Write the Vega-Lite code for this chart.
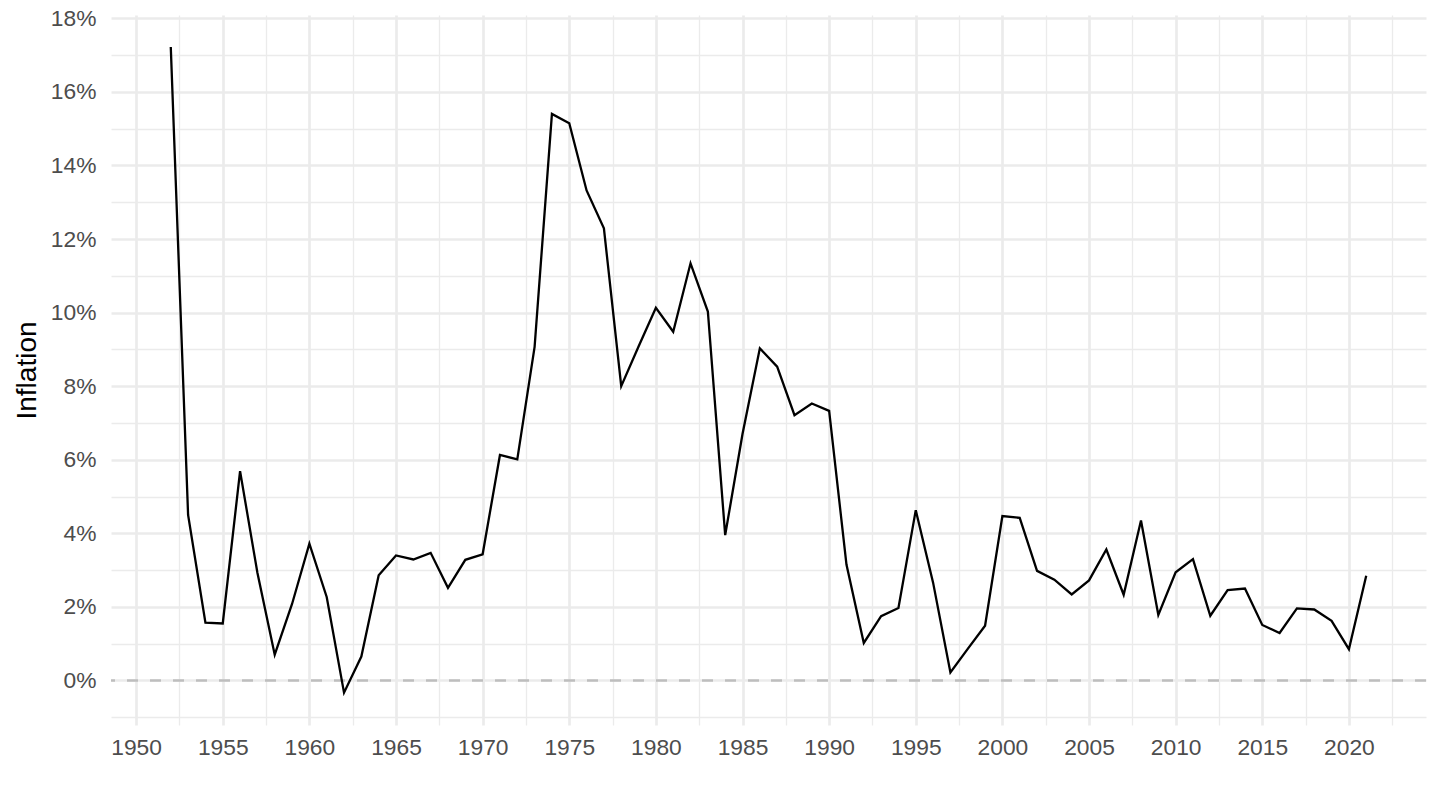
{
  "$schema": "https://vega.github.io/schema/vega-lite/v6.json",
  "autosize": {"type": "none"},
  "width": 1315,
  "height": 710,
  "padding": {"left": 111, "top": 15, "right": 14, "bottom": 85},
  "background": "white",
  "config": {
    "view": {"stroke": null},
    "font": "Liberation Sans"
  },
  "resolve": {"axis": {"y": "independent"}},
  "layer": [
    {
      "data": {"values": [{"level": 0}]},
      "mark": {"type": "rule", "color": "#BEBEBE", "strokeWidth": 2.7, "strokeDash": [11, 12]},
      "encoding": {
        "y": {
          "field": "level",
          "type": "quantitative",
          "scale": {"domain": [-1.21, 18.09], "nice": false, "zero": false},
          "axis": {
            "orient": "left",
            "title": null,
            "values": [-1, 1, 3, 5, 7, 9, 11, 13, 15, 17],
            "labels": false,
            "domain": false,
            "ticks": false,
            "grid": true,
            "gridColor": "#EBEBEB",
            "gridWidth": 1.35
          }
        }
      }
    },
    {
      "data": {
        "values": [
          {"year": 1952, "inflation": 17.22},
          {"year": 1953, "inflation": 4.50},
          {"year": 1954, "inflation": 1.57},
          {"year": 1955, "inflation": 1.55},
          {"year": 1956, "inflation": 5.69},
          {"year": 1957, "inflation": 2.93},
          {"year": 1958, "inflation": 0.70},
          {"year": 1959, "inflation": 2.08},
          {"year": 1960, "inflation": 3.72},
          {"year": 1961, "inflation": 2.27},
          {"year": 1962, "inflation": -0.33},
          {"year": 1963, "inflation": 0.65},
          {"year": 1964, "inflation": 2.86},
          {"year": 1965, "inflation": 3.40},
          {"year": 1966, "inflation": 3.29},
          {"year": 1967, "inflation": 3.47},
          {"year": 1968, "inflation": 2.52},
          {"year": 1969, "inflation": 3.28},
          {"year": 1970, "inflation": 3.43},
          {"year": 1971, "inflation": 6.13},
          {"year": 1972, "inflation": 6.01},
          {"year": 1973, "inflation": 9.07},
          {"year": 1974, "inflation": 15.40},
          {"year": 1975, "inflation": 15.15},
          {"year": 1976, "inflation": 13.32},
          {"year": 1977, "inflation": 12.29},
          {"year": 1978, "inflation": 8.00},
          {"year": 1979, "inflation": 9.08},
          {"year": 1980, "inflation": 10.13},
          {"year": 1981, "inflation": 9.48},
          {"year": 1982, "inflation": 11.34},
          {"year": 1983, "inflation": 10.03},
          {"year": 1984, "inflation": 3.95},
          {"year": 1985, "inflation": 6.70},
          {"year": 1986, "inflation": 9.03},
          {"year": 1987, "inflation": 8.53},
          {"year": 1988, "inflation": 7.21},
          {"year": 1989, "inflation": 7.53},
          {"year": 1990, "inflation": 7.33},
          {"year": 1991, "inflation": 3.15},
          {"year": 1992, "inflation": 1.02},
          {"year": 1993, "inflation": 1.75},
          {"year": 1994, "inflation": 1.97},
          {"year": 1995, "inflation": 4.63},
          {"year": 1996, "inflation": 2.66},
          {"year": 1997, "inflation": 0.22},
          {"year": 1998, "inflation": 0.86},
          {"year": 1999, "inflation": 1.49},
          {"year": 2000, "inflation": 4.47},
          {"year": 2001, "inflation": 4.42},
          {"year": 2002, "inflation": 2.98},
          {"year": 2003, "inflation": 2.74},
          {"year": 2004, "inflation": 2.34},
          {"year": 2005, "inflation": 2.72},
          {"year": 2006, "inflation": 3.56},
          {"year": 2007, "inflation": 2.33},
          {"year": 2008, "inflation": 4.35},
          {"year": 2009, "inflation": 1.78},
          {"year": 2010, "inflation": 2.94},
          {"year": 2011, "inflation": 3.30},
          {"year": 2012, "inflation": 1.76},
          {"year": 2013, "inflation": 2.46},
          {"year": 2014, "inflation": 2.50},
          {"year": 2015, "inflation": 1.51},
          {"year": 2016, "inflation": 1.29},
          {"year": 2017, "inflation": 1.96},
          {"year": 2018, "inflation": 1.93},
          {"year": 2019, "inflation": 1.62},
          {"year": 2020, "inflation": 0.85},
          {"year": 2021, "inflation": 2.85}
        ]
      },
      "mark": {"type": "line", "color": "black", "strokeWidth": 2.3},
      "encoding": {
        "x": {
          "field": "year",
          "type": "quantitative",
          "title": null,
          "scale": {"domain": [1948.55, 2024.45], "nice": false, "zero": false},
          "axis": {
            "values": [1950, 1952.5, 1955, 1957.5, 1960, 1962.5, 1965, 1967.5, 1970, 1972.5, 1975, 1977.5, 1980, 1982.5, 1985, 1987.5, 1990, 1992.5, 1995, 1997.5, 2000, 2002.5, 2005, 2007.5, 2010, 2012.5, 2015, 2017.5, 2020, 2022.5],
            "format": "d",
            "labelExpr": "datum.value % 5 === 0 ? datum.label : ''",
            "domain": false,
            "ticks": false,
            "tickSize": 0,
            "grid": true,
            "gridColor": "#EBEBEB",
            "gridWidth": {"condition": {"test": "datum.value % 5 === 0", "value": 2.7}, "value": 1.35},
            "labelFont": "Liberation Sans",
            "labelFontSize": 22.8,
            "labelColor": "#4D4D4D",
            "labelBaseline": "alphabetic",
            "labelPadding": 29,
            "labelOverlap": false,
            "labelFlush": false
          }
        },
        "y": {
          "field": "inflation",
          "type": "quantitative",
          "title": "Inflation",
          "scale": {"domain": [-1.21, 18.09], "nice": false, "zero": false},
          "axis": {
            "orient": "left",
            "values": [0, 2, 4, 6, 8, 10, 12, 14, 16, 18],
            "format": "d",
            "labelExpr": "datum.label + '%'",
            "domain": false,
            "ticks": false,
            "tickSize": 0,
            "grid": true,
            "gridColor": "#EBEBEB",
            "gridWidth": 2.7,
            "labelFont": "Liberation Sans",
            "labelFontSize": 22.8,
            "labelColor": "#4D4D4D",
            "labelPadding": 15,
            "labelOverlap": false,
            "labelFlush": false,
            "titleFont": "Liberation Sans",
            "titleFontSize": 28,
            "titleFontWeight": "normal",
            "titleColor": "black",
            "titleBaseline": "alphabetic",
            "titleX": -76,
            "titleY": 355,
            "titleAngle": 270
          }
        }
      }
    }
  ]
}
